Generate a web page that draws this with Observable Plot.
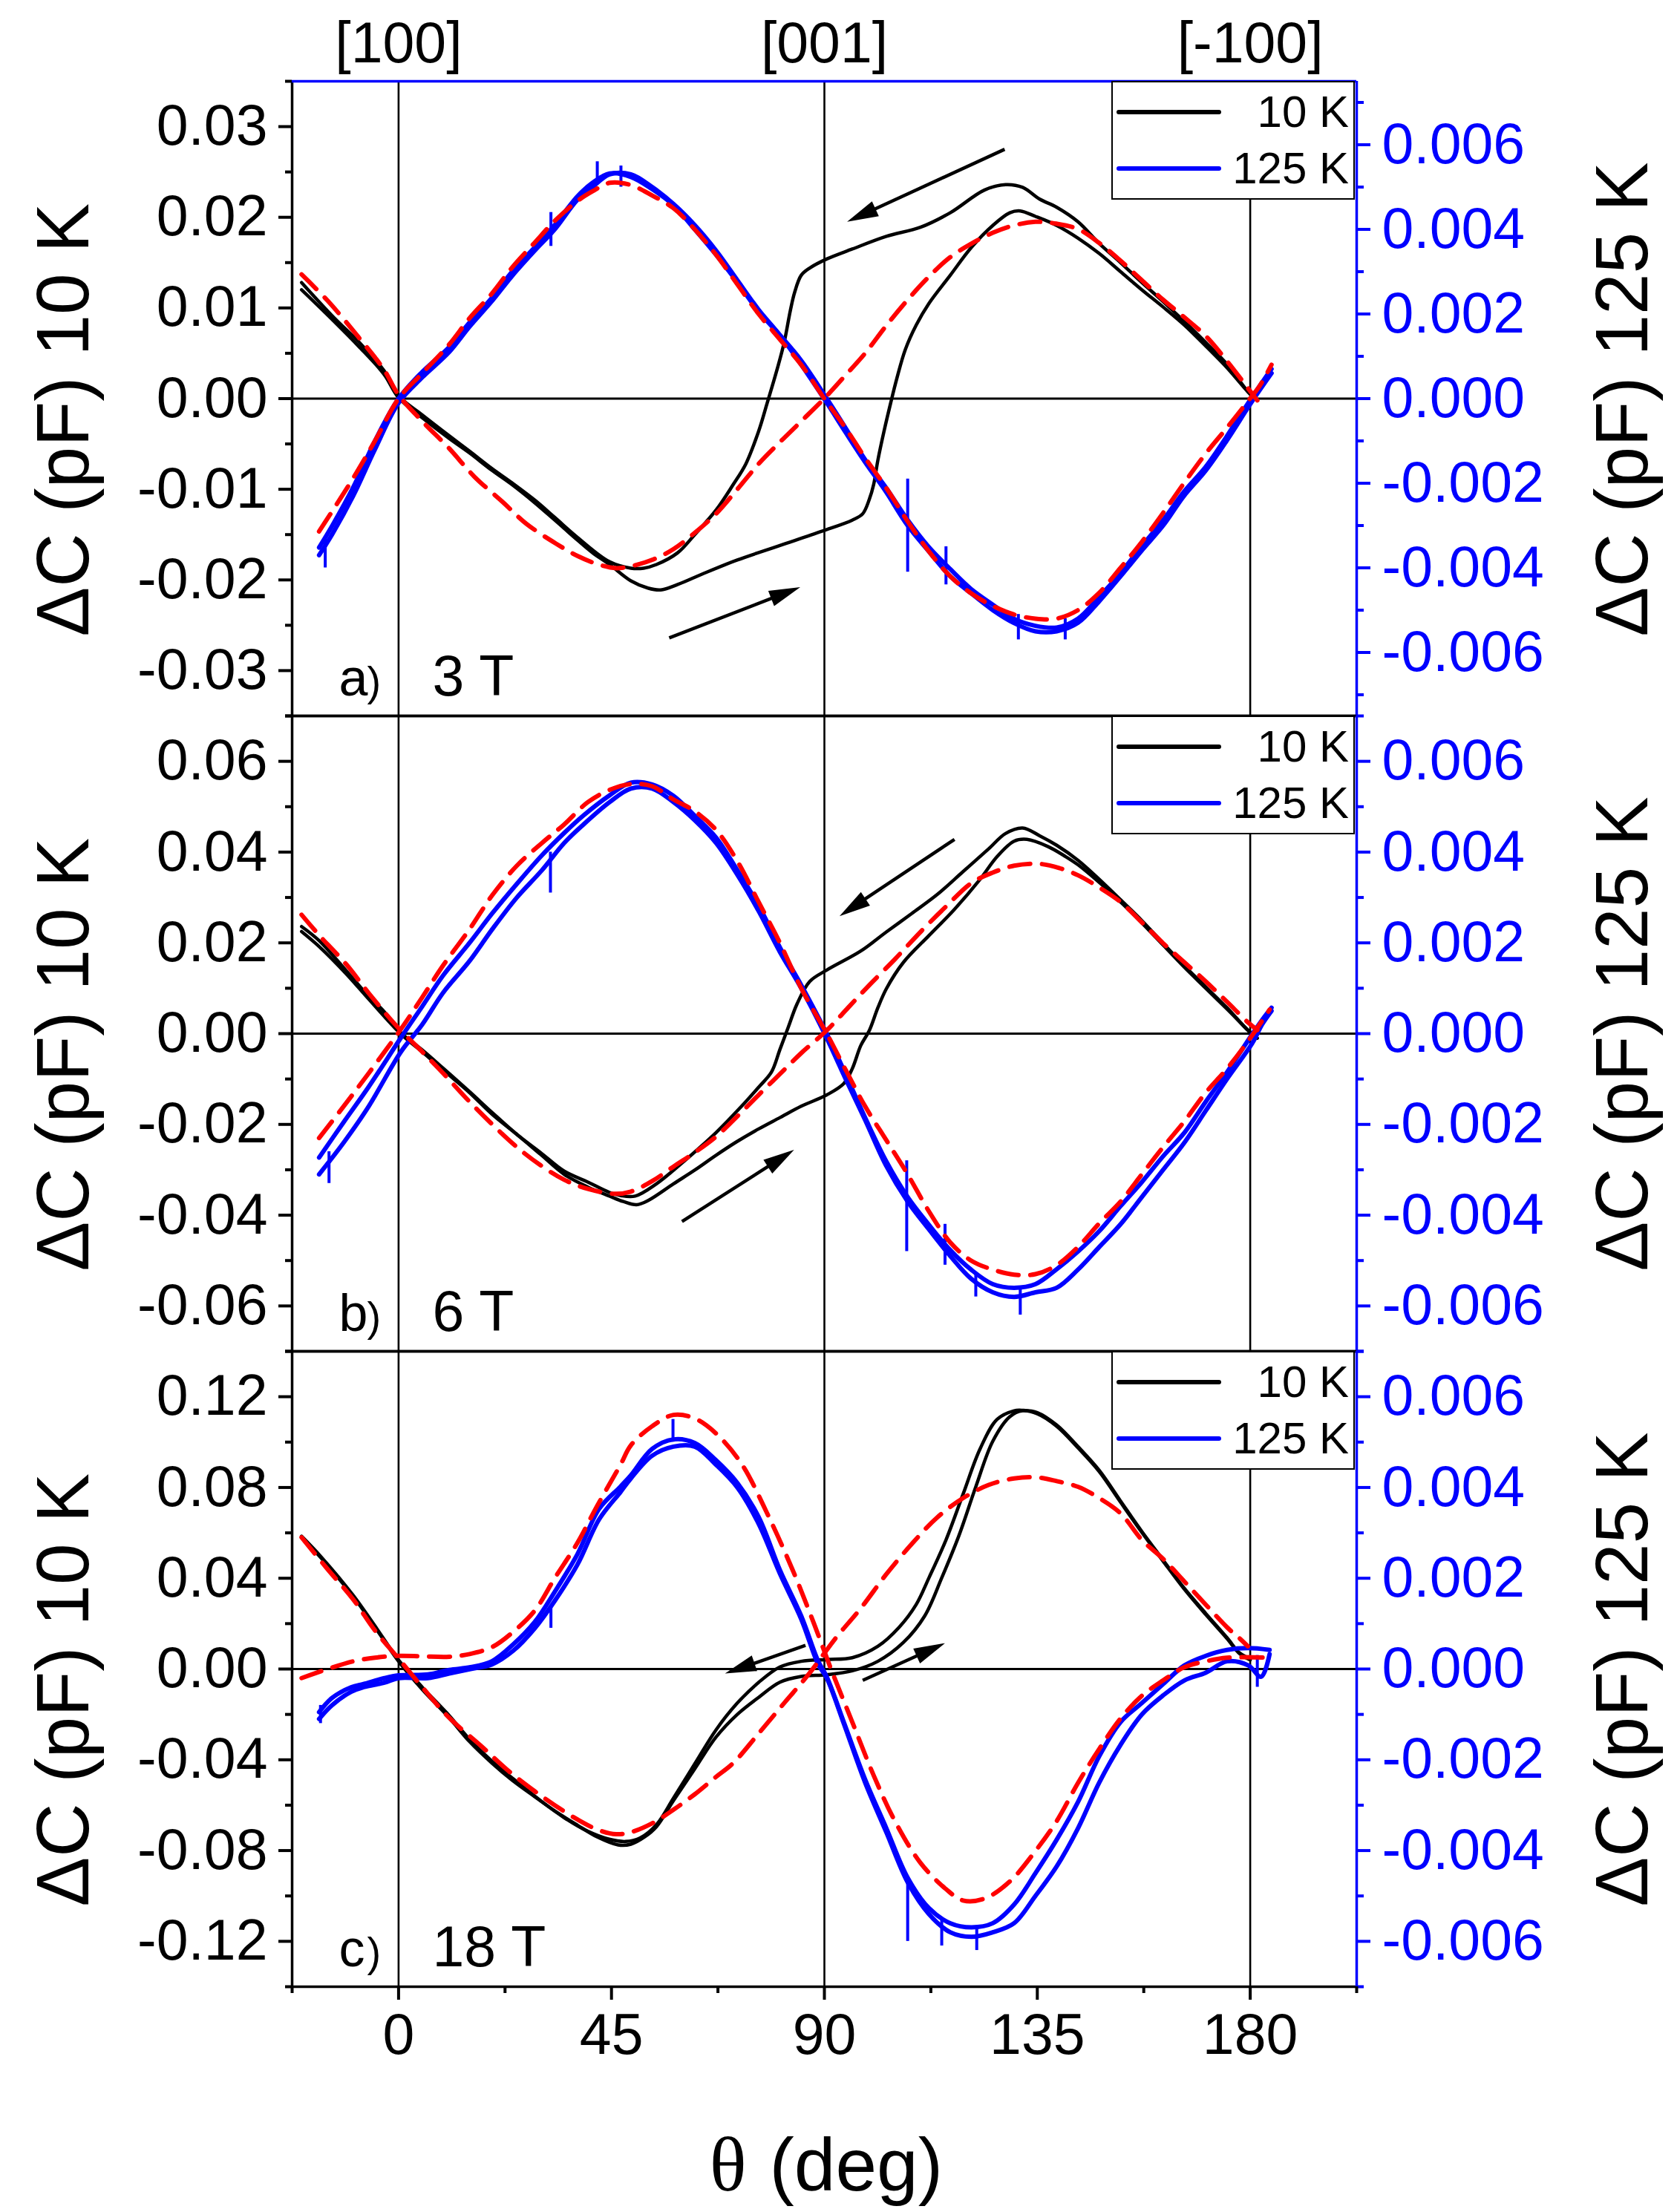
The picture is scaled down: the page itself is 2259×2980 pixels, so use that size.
<!DOCTYPE html>
<html><head><meta charset="utf-8">
<script src="https://cdn.jsdelivr.net/npm/d3@7"></script>
<script src="https://cdn.jsdelivr.net/npm/@observablehq/plot@0.6"></script>
<style>
body{margin:0;background:#fff;}
#fig{position:relative;width:2259px;height:2980px;background:#fff;overflow:hidden;font-family:"Liberation Sans",Arial,sans-serif;}
.panel{position:absolute;left:0;}
.legend{position:absolute;left:1497px;width:328px;height:160px;box-sizing:border-box;border:2.5px solid #000;background:#fff;}
.lline{position:absolute;left:5px;width:141px;height:6px;border-radius:3px;}
.ltxt{position:absolute;right:6px;font-size:60px;line-height:60px;height:60px;color:#000;white-space:nowrap;}
</style></head><body><div id="fig"></div><script>
// ---------- shared axis data ----------
const xDomain = [-22.5, 202.5];
const gridX = [0, 90, 180];
const xMajor = [0, 45, 90, 135, 180];
const xMinor = [-22.5, 22.5, 67.5, 112.5, 157.5, 202.5];
const topLabels = ["[100]", "[001]", "[-100]"];
const rightMajor = [-0.006, -0.004, -0.002, 0, 0.002, 0.004, 0.006];
const rightMinor = [-0.007, -0.005, -0.003, -0.001, 0.001, 0.003, 0.005, 0.007];
const legendLabels = ["10 K", "125 K"];
const legendColors = ["#000000", "#0000ff"];
const leftTitle = "ΔC (pF) 10 K";
const rightTitle = "ΔC (pF) 125 K";
const xTitleSymbol = "θ";
const xTitleUnit = "(deg)";

// ---------- panel a (3 T) ----------
const aLeftMajor = [-0.03, -0.02, -0.01, 0, 0.01, 0.02, 0.03];
const aLeftMinor = [-0.035, -0.025, -0.015, -0.005, 0.005, 0.015, 0.025, 0.035];
const aYMax = 0.035, aRightMax = 0.0075;
const aBlackFwd = [[-20.5,0.0120],[-13.6,0.0085],[-8.5,0.0058],[-3.1,0.0027],[0,0.0001],[5,-0.0021],[10.7,-0.0044],[15,-0.0060],[19.7,-0.0079],[24,-0.0095],[28.8,-0.0115],[33,-0.0134],[37.8,-0.0156],[41,-0.0170],[44.6,-0.0183],[49.1,-0.0201],[52.7,-0.0209],[55.4,-0.0211],[59,-0.0205],[64.4,-0.0193],[71.6,-0.0178],[80.6,-0.0162],[89.6,-0.0146],[95.9,-0.0134],[98.1,-0.0127],[99.5,-0.0111],[100.4,-0.0095],[101.3,-0.0068],[102.6,-0.0036],[104,-0.0005],[105.3,0.0022],[107.1,0.0054],[109.4,0.0081],[112.1,0.0105],[116.6,0.0136],[121.1,0.0167],[125.6,0.0191],[129.2,0.0205],[131.4,0.0207],[134.6,0.0201],[139.1,0.0191],[143.6,0.0177],[148.1,0.0160],[152.6,0.0140],[157.1,0.0120],[161.6,0.0101],[166.1,0.0081],[170.6,0.0058],[175.1,0.0034],[179.6,0.0007],[181,0.0000]];
const aBlackBwd = [[181,0.0002],[180,0.0005],[175.1,0.0038],[170.6,0.0062],[166.1,0.0085],[161.6,0.0107],[157.1,0.0128],[152.6,0.0150],[148.1,0.0171],[143.6,0.0195],[139.1,0.0211],[135.5,0.0220],[131.9,0.0233],[128.3,0.0236],[123.8,0.0230],[116.6,0.0205],[110.3,0.0189],[103.1,0.0179],[95.9,0.0165],[90.5,0.0154],[86.9,0.0144],[85.1,0.0136],[83.7,0.0117],[82.8,0.0097],[81.5,0.0062],[80.1,0.0034],[77.9,-0.0005],[76.1,-0.0036],[73.4,-0.0072],[70.7,-0.0095],[67.1,-0.0123],[62.6,-0.0150],[59,-0.0170],[54.5,-0.0183],[51.8,-0.0187],[49.1,-0.0187],[44.6,-0.0180],[37.8,-0.0153],[33,-0.0131],[28.8,-0.0112],[24,-0.0093],[19.7,-0.0077],[15,-0.0058],[10.7,-0.0041],[5,-0.0018],[0,0.0003],[-3.1,0.0031],[-8.5,0.0063],[-13.6,0.0089],[-20.5,0.0128]];
const aRedBlack = [[-20.5,0.0137],[-15,0.0108],[-8.5,0.0068],[-3.1,0.0032],[0,0.0004],[5,-0.0025],[10.7,-0.0055],[16,-0.0086],[22,-0.0114],[27,-0.0138],[33.3,-0.0160],[38,-0.0174],[42.3,-0.0183],[46,-0.0187],[49,-0.0185],[54,-0.0177],[58.1,-0.0166],[62.6,-0.0148],[67.1,-0.0127],[71.6,-0.0100],[76.1,-0.0072],[80.6,-0.0048],[85.1,-0.0025],[90.5,0.0003],[94.5,0.0026],[98.6,0.0050],[103,0.0080],[107.6,0.0109],[112,0.0134],[116.6,0.0156],[121.1,0.0171],[125.6,0.0183],[130,0.0191],[134.6,0.0195],[139,0.0193],[143.6,0.0187],[148,0.0172],[152.6,0.0152],[157,0.0131],[161.6,0.0109],[166,0.0090],[170.6,0.0069],[175,0.0042],[179.6,0.0011],[181.5,-0.0002]];
const aBlue1 = [[-16.8,-0.00352],[-14,-0.0030],[-9.6,-0.0021],[-5,-0.0010],[0,0],[5,0.00063],[10.7,0.00122],[15,0.0018],[19.7,0.00238],[24,0.0030],[28.8,0.00358],[33,0.0041],[37.8,0.00478],[41,0.0051],[44.6,0.00532],[49.1,0.00524],[53.6,0.00495],[58.1,0.00457],[62.6,0.0040],[67.1,0.0034],[71.6,0.00275],[76.1,0.00206],[80.6,0.0015],[85.1,0.0009],[90.5,0],[94.5,-0.0007],[98.6,-0.00144],[103,-0.0021],[107.6,-0.00287],[112,-0.0035],[116.6,-0.00403],[121,-0.0045],[125.6,-0.00487],[130,-0.0052],[134.6,-0.00537],[139.1,-0.00541],[143.6,-0.0052],[148,-0.0047],[152.6,-0.00412],[157,-0.0035],[161.6,-0.00287],[166,-0.0022],[170.6,-0.00161],[175,-0.0009],[179.6,-0.0001],[182,0.0003],[184.5,0.0007]];
const aBlue2 = [[-16.8,-0.0037],[-14,-0.0032],[-9.6,-0.0023],[-5,-0.0012],[0,-0.0001],[5,0.0005],[10.7,0.0011],[15,0.0017],[19.7,0.0023],[24,0.0029],[28.8,0.0035],[33,0.0040],[37.8,0.0047],[41,0.0050],[44.6,0.0053],[49.1,0.0053],[53.6,0.0050],[58.1,0.0046],[62.6,0.0041],[67.1,0.0035],[71.6,0.0028],[76.1,0.0021],[80.6,0.0015],[85.1,0.0008],[90.5,-0.0001],[94.5,-0.0008],[98.6,-0.0015],[103,-0.0022],[107.6,-0.0030],[112,-0.0036],[116.6,-0.0042],[121,-0.0046],[125.6,-0.0050],[130,-0.0053],[134.6,-0.0055],[139.1,-0.0055],[143.6,-0.0053],[148,-0.0048],[152.6,-0.0042],[157,-0.0036],[161.6,-0.0030],[166,-0.0023],[170.6,-0.0017],[175,-0.0010],[179.6,-0.0002],[182,0.0002],[184.5,0.0006]];
const aRedBlue = [[-16.8,-0.00314],[-9.6,-0.00188],[-5,-0.0010],[0,0],[5,0.0006],[10.7,0.00128],[15,0.0019],[19.7,0.00248],[24,0.0031],[28.8,0.00369],[33,0.0042],[37.8,0.00467],[41,0.0049],[44.6,0.0051],[49,0.00505],[53.6,0.0048],[58.1,0.0045],[62.6,0.0040],[67.1,0.0034],[71.6,0.0027],[76.1,0.0020],[80.6,0.0014],[85.1,0.0008],[90,0],[94.5,-0.0007],[98.6,-0.0014],[103,-0.0021],[107.6,-0.0029],[112,-0.0036],[116.6,-0.0042],[121,-0.0046],[125.6,-0.0049],[130,-0.0051],[134.6,-0.0052],[139.1,-0.0052],[143.6,-0.0050],[148,-0.0046],[152.6,-0.0040],[157,-0.0034],[161.6,-0.0027],[166,-0.0020],[170.6,-0.0013],[175,-0.0007],[179.6,-0.00005],[182,0.0003],[184.5,0.0008]];
const aSpikes = [[-15.5,-0.0040,-0.0033],[32.2,0.0036,0.0044],[42,0.0051,0.0056],[47,0.0050,0.0055],[107.6,-0.0041,-0.0019],[115.7,-0.0044,-0.0035],[131,-0.0057,-0.0051],[140.9,-0.0057,-0.0052]];
const aArrows = [[128.1,0.0275,94.8,0.0195],[57.2,-0.0264,84.9,-0.0208]];

// ---------- panel b (6 T) ----------
const bLeftMajor = [-0.06, -0.04, -0.02, 0, 0.02, 0.04, 0.06];
const bLeftMinor = [-0.07, -0.05, -0.03, -0.01, 0.01, 0.03, 0.05, 0.07];
const bYMax = 0.07, bRightMax = 0.007;
const bBlackFwd = [[-20.5,0.0225],[-16.8,0.0192],[-11,0.0131],[-6.3,0.0076],[0.5,-0.0001],[5,-0.0040],[9.4,-0.0080],[15,-0.0130],[19.8,-0.0178],[25,-0.0222],[30,-0.0266],[35,-0.0310],[40,-0.0338],[44.6,-0.0358],[47.5,-0.0370],[50.3,-0.0377],[52.7,-0.0368],[58.1,-0.0331],[62.7,-0.0300],[67.1,-0.0268],[71.5,-0.0238],[76.1,-0.0210],[80.6,-0.0185],[85.1,-0.0160],[90.5,-0.0135],[94.1,-0.0110],[95.9,-0.0077],[97.7,-0.0026],[99.5,0.0007],[101.3,0.0057],[103.1,0.0099],[106.7,0.0157],[112.1,0.0216],[117.5,0.0274],[122.9,0.0340],[126.5,0.0390],[130.1,0.0424],[132.8,0.0428],[137.3,0.0412],[141,0.0390],[143.6,0.0372],[148.1,0.0333],[152.6,0.0290],[157.1,0.0244],[161.6,0.0195],[166.1,0.0146],[170.6,0.0100],[175.1,0.0054],[180.5,-0.0002],[181.5,-0.0010]];
const bBlackBwd = [[181,0.0003],[180.5,0.0000],[175.1,0.0057],[170.6,0.0103],[166.1,0.0149],[161.6,0.0199],[157.1,0.0249],[152.6,0.0295],[148.1,0.0340],[143.6,0.0382],[139.1,0.0415],[135.5,0.0436],[131.9,0.0453],[128.3,0.0441],[124.7,0.0407],[119.3,0.0357],[113.9,0.0307],[108.5,0.0265],[103.1,0.0224],[97.7,0.0182],[90.5,0.0140],[86.9,0.0115],[84.2,0.0065],[82.4,0.0015],[80.6,-0.0035],[78.8,-0.0085],[76.1,-0.0118],[72.5,-0.0160],[67.1,-0.0218],[59.9,-0.0285],[54.5,-0.0331],[50,-0.0358],[47,-0.0357],[44.6,-0.0350],[40,-0.0327],[35,-0.0303],[30,-0.0262],[25,-0.0222],[19.8,-0.0174],[15,-0.0128],[9.4,-0.0076],[5,-0.0036],[0.5,0.0002],[-3,0.0048],[-6.3,0.0082],[-11,0.0138],[-16.8,0.0205],[-20.5,0.0236]];
const bRedBlack = [[-20.5,0.0262],[-16.8,0.0217],[-11,0.0152],[-6.3,0.0089],[0,0.0012],[5,-0.0040],[9.4,-0.0087],[15,-0.0150],[19.8,-0.0200],[25,-0.0250],[30,-0.0290],[35,-0.0322],[40,-0.0342],[45.7,-0.0353],[49.1,-0.0348],[53.6,-0.0325],[58.1,-0.0293],[62.6,-0.0262],[67.1,-0.0227],[71.6,-0.0182],[76.1,-0.0135],[80.6,-0.0089],[85.1,-0.0043],[90.5,0.0007],[95,0.0057],[99.5,0.0107],[105,0.0165],[110.3,0.0224],[115.7,0.0280],[121.1,0.0332],[125.6,0.0355],[130.1,0.0370],[135.5,0.0374],[139.6,0.0365],[143.6,0.0349],[148.1,0.0322],[152.6,0.0290],[157.1,0.0245],[161.6,0.0199],[166.1,0.0157],[170.6,0.0115],[175.1,0.0070],[179.6,0.0024],[181.5,0.0008]];
const bBlue1 = [[-16.8,-0.00273],[-11.6,-0.00195],[-6.3,-0.00117],[0.5,-0.00009],[5,0.0006],[9.4,0.00128],[15,0.0020],[19.8,0.00265],[25,0.0033],[30.3,0.00393],[35,0.00442],[39,0.0048],[44.6,0.00525],[49.1,0.00553],[53.6,0.00549],[58.1,0.00524],[62.6,0.0048],[67.1,0.00432],[71.6,0.0036],[76.1,0.00282],[80.6,0.0019],[85.1,0.00107],[90.5,0],[94.5,-0.0009],[98.6,-0.00185],[103,-0.0028],[107.6,-0.0036],[112,-0.0042],[116.6,-0.00477],[121,-0.0052],[125.6,-0.00552],[130.1,-0.0056],[134.6,-0.00552],[139.1,-0.00519],[143.6,-0.0048],[148.1,-0.00435],[152.6,-0.0038],[157.1,-0.00327],[161.6,-0.0027],[166.1,-0.00218],[170.6,-0.0015],[175.1,-0.00085],[180.5,0],[182.5,0.0003],[184.5,0.00057]];
const bBlue2 = [[-16.8,-0.0031],[-11.6,-0.0024],[-6.3,-0.0016],[0.5,-0.0004],[5,0.0002],[9.4,0.0009],[15,0.0016],[19.8,0.0023],[25,0.0030],[30.3,0.0036],[35,0.0042],[39,0.0046],[44.6,0.0051],[49.1,0.0054],[53.6,0.0054],[58.1,0.0051],[62.6,0.0047],[67.1,0.0042],[71.6,0.0035],[76.1,0.0027],[80.6,0.0018],[85.1,0.0010],[90.5,-0.0001],[94.5,-0.0010],[98.6,-0.0019],[103,-0.0029],[107.6,-0.0037],[112,-0.0043],[116.6,-0.0049],[121,-0.0054],[125.6,-0.0057],[130.1,-0.0058],[134.6,-0.0057],[139.1,-0.0056],[143.6,-0.0052],[148.1,-0.0047],[152.6,-0.0042],[157.1,-0.0036],[161.6,-0.0030],[166.1,-0.0024],[170.6,-0.0017],[175.1,-0.0010],[180.5,-0.0002],[182.5,0.0002],[184.5,0.0005]];
const bRedBlue = [[-16.8,-0.0023],[-11.6,-0.0016],[-6.3,-0.00087],[0.5,0.0001],[5,0.0008],[9.4,0.0015],[15,0.0023],[19.8,0.00305],[25,0.0037],[30.3,0.0042],[35,0.00461],[40,0.0051],[44.6,0.00537],[49.1,0.0055],[53.6,0.00545],[58.1,0.00516],[62.6,0.0049],[67.1,0.00449],[71.6,0.0038],[76.1,0.0029],[80.6,0.0020],[85.1,0.0010],[90.5,0],[94.5,-0.0008],[98.6,-0.0016],[103.1,-0.00235],[107.6,-0.0031],[112,-0.0039],[116.6,-0.0046],[121,-0.0050],[125.6,-0.0052],[130.1,-0.00531],[134.6,-0.0053],[139.1,-0.0051],[143.6,-0.0047],[148.1,-0.00418],[152.6,-0.0037],[157.1,-0.0031],[161.6,-0.0025],[166.1,-0.00193],[170.6,-0.0013],[175.1,-0.00077],[180,-0.0001],[184.1,0.00053]];
const bSpikes = [[-14.7,-0.0033,-0.0026],[32.1,0.0031,0.0040],[107.4,-0.0048,-0.0028],[115.5,-0.0051,-0.0042],[122,-0.0058,-0.0053],[131.4,-0.0062,-0.0056]];
const bArrows = [[117.5,0.0428,93.2,0.0259],[59.9,-0.0414,83.6,-0.0256]];

// ---------- panel c (18 T) ----------
const cLeftMajor = [-0.12, -0.08, -0.04, 0, 0.04, 0.08, 0.12];
const cLeftMinor = [-0.14, -0.10, -0.06, -0.02, 0.02, 0.06, 0.10, 0.14];
const cYMax = 0.14, cRightMax = 0.007;
const cBlackFwd = [[-20.5,0.0580],[-16.4,0.0490],[-9.6,0.0320],[-5,0.0185],[0,0.0034],[5,-0.0090],[10.7,-0.0215],[15,-0.0320],[19.7,-0.0414],[24,-0.0490],[28.8,-0.0563],[33,-0.0625],[37.8,-0.0688],[42,-0.0740],[46.4,-0.0775],[49.1,-0.0772],[52,-0.0740],[54.5,-0.0695],[58.1,-0.0580],[62.6,-0.0440],[67.1,-0.0300],[71.6,-0.0200],[76.1,-0.0125],[80.6,-0.0058],[85.1,-0.0033],[90.5,-0.0025],[95.9,-0.0008],[101.3,0.0034],[106.7,0.0117],[111.2,0.0234],[114.8,0.0402],[118.4,0.0586],[122,0.0803],[125.6,0.1004],[129.2,0.1112],[131.9,0.1138],[135,0.1125],[139.1,0.1070],[143.6,0.0975],[148.1,0.0870],[152.6,0.0735],[157.1,0.0602],[161.6,0.0475],[166.1,0.0351],[170.6,0.0240],[175.1,0.0134],[177.8,0.0067],[180,0.0040]];
const cBlackBwd = [[180,0.0045],[177.8,0.0070],[175.1,0.0138],[170.6,0.0245],[166.1,0.0355],[161.6,0.0480],[157.1,0.0606],[152.6,0.0740],[148.1,0.0875],[143.6,0.0980],[139.1,0.1075],[135,0.1130],[131.9,0.1140],[130.1,0.1138],[126.5,0.1100],[122.9,0.0970],[119.3,0.0770],[115.7,0.0569],[112.1,0.0402],[109.4,0.0284],[105.8,0.0184],[101.3,0.0100],[95.9,0.0050],[90.5,0.0042],[85.1,0.0034],[80.6,0.0009],[76.1,-0.0059],[71.6,-0.0150],[67.1,-0.0268],[62.6,-0.0418],[58.1,-0.0569],[54.5,-0.0686],[51,-0.0745],[48,-0.0760],[44.5,-0.0750],[40,-0.0715],[35,-0.0655],[30,-0.0580],[24,-0.0480],[19.7,-0.0405],[15,-0.0310],[10.7,-0.0205],[5,-0.0080],[0,0.0040],[-5,0.0190],[-9.6,0.0325],[-16.4,0.0495],[-20.5,0.0585]];
const cRedBlack = [[-20.5,0.0580],[-15,0.0440],[-9.6,0.0307],[-5,0.0170],[0,0.0046],[5,-0.0080],[10.7,-0.0215],[17.5,-0.0340],[23,-0.0445],[28.8,-0.0539],[33,-0.0600],[37.8,-0.0663],[42.3,-0.0710],[46,-0.0728],[49.1,-0.0719],[53.6,-0.0680],[58.1,-0.0620],[62.6,-0.0552],[67.1,-0.0475],[70.7,-0.0415],[76.1,-0.0284],[81.5,-0.0150],[86.9,-0.0017],[92.3,0.0134],[97.7,0.0268],[103.1,0.0418],[108.5,0.0552],[113.9,0.0669],[119.3,0.0753],[124.7,0.0811],[130.1,0.0840],[134.6,0.0845],[139.1,0.0828],[143.6,0.0803],[148.1,0.0753],[152.6,0.0686],[157.1,0.0569],[161.6,0.0485],[166.1,0.0385],[170.6,0.0284],[175.1,0.0184],[177.8,0.0134],[179.5,0.0100]];
const cBlue1 = [[-16.8,-0.00095],[-14.1,-0.00064],[-10,-0.0004],[-7.4,-0.00033],[-3,-0.0002],[0,-0.00014],[6.2,-0.00012],[10.7,-0.00002],[15.2,0.00004],[19.7,0.00017],[24.2,0.00054],[28.8,0.00104],[33,0.0017],[37.8,0.00253],[42.4,0.00353],[46.9,0.00402],[49.1,0.00427],[53.6,0.00485],[58.1,0.00506],[62.6,0.00498],[67.1,0.0046],[71.6,0.0041],[76.1,0.00335],[80.6,0.00218],[85.1,0.00117],[88.7,0.00017],[90.5,-0.00017],[94.1,-0.00117],[98.6,-0.00243],[103.1,-0.00351],[107.6,-0.0046],[112.1,-0.00527],[116.6,-0.0056],[121.1,-0.00569],[125.6,-0.0056],[130.1,-0.00519],[134.6,-0.0045],[139.1,-0.00376],[143.6,-0.00293],[148.1,-0.00192],[152.6,-0.00117],[157.1,-0.00075],[161.6,-0.00033],[166.1,0.00008],[170.6,0.00029],[175.1,0.00042],[179.6,0.00046],[184.1,0.00042]];
const cBlue2 = [[-16.8,-0.0011],[-14.1,-0.0008],[-10,-0.0005],[-7.4,-0.0004],[-3,-0.0003],[0,-0.0002],[6.2,-0.0002],[10.7,-0.0001],[15.2,0.0000],[19.7,0.0001],[24.2,0.0004],[28.8,0.0009],[33,0.0015],[37.8,0.0023],[42.4,0.0033],[46.9,0.0039],[49.1,0.0042],[53.6,0.0047],[58.1,0.0049],[62.6,0.0049],[67.1,0.0045],[71.6,0.0040],[76.1,0.0032],[80.6,0.0021],[85.1,0.0011],[88.7,0.0001],[90.5,-0.0002],[94.1,-0.0012],[98.6,-0.0025],[103.1,-0.0036],[107.6,-0.0047],[112.1,-0.0054],[116.6,-0.0058],[121.1,-0.0059],[125.6,-0.0058],[130.1,-0.0056],[134.6,-0.0050],[139.1,-0.00435],[143.6,-0.00351],[148.1,-0.0025],[152.6,-0.00167],[157.1,-0.0010],[161.6,-0.00058],[166.1,-0.00025],[170.6,-0.00008],[175.1,0.00017],[179.6,0.00008],[182.3,-0.00017],[184.1,0.00033]];
const cRedBlue = [[-20.5,-0.0002],[-15,0.0000],[-9.6,0.00017],[-5,0.00025],[0,0.00029],[5,0.00028],[10.7,0.00027],[15,0.00033],[19.7,0.00048],[24,0.0008],[28.8,0.00129],[33,0.0020],[37.8,0.00278],[42,0.0036],[46.9,0.0045],[49.1,0.00493],[53.6,0.00535],[58.1,0.0056],[62.6,0.00552],[67.1,0.00519],[72.5,0.00452],[77.9,0.00343],[83.3,0.00218],[87.8,0.001],[91.4,0],[95.9,-0.00117],[100.4,-0.00234],[104.9,-0.00335],[110.3,-0.00427],[115.7,-0.00485],[119.3,-0.0051],[123.8,-0.00506],[129.2,-0.00468],[134.6,-0.00401],[139.1,-0.00335],[143.6,-0.00251],[148.1,-0.00176],[152.6,-0.00109],[157.1,-0.00059],[161.6,-0.00025],[166.1,0.00004],[170.6,0.00017],[175.1,0.00025],[184.1,0.00025]];
const cSpikes = [[-16.5,-0.0012,-0.0008],[32.2,0.0009,0.0014],[58,0.0050,0.0055],[107.6,-0.0060,-0.0046],[114.8,-0.0061,-0.0055],[122.2,-0.0062,-0.0057],[181.5,-0.0004,0.0003]];
const cArrows = [[86,0.0104,69,-0.0020],[98.1,-0.0050,115.5,0.0114]];

// ---------- panel configuration ----------
const panelLetters = ["a", "b", "c"];
const panelFields = ["3 T", "6 T", "18 T"];
const panels = [
  {top: 0, height: 964, mt: 109, mb: 0, yMax: aYMax, rMax: aRightMax, major: aLeftMajor, minor: aLeftMinor, fwd: aBlackFwd, bwd: aBlackBwd, redBlack: aRedBlack, blue: [aBlue1, aBlue2], redBlue: aRedBlue, spikes: aSpikes, arrows: aArrows, topColor: "#0000ff", topAxis: true, bottomAxis: false},
  {top: 964, height: 856, mt: 0, mb: 0, yMax: bYMax, rMax: bRightMax, major: bLeftMajor, minor: bLeftMinor, fwd: bBlackFwd, bwd: bBlackBwd, redBlack: bRedBlack, blue: [bBlue1, bBlue2], redBlue: bRedBlue, spikes: bSpikes, arrows: bArrows, topColor: "#000000", topAxis: false, bottomAxis: false},
  {top: 1820, height: 1160, mt: 0, mb: 304, yMax: cYMax, rMax: cRightMax, major: cLeftMajor, minor: cLeftMinor, fwd: cBlackFwd, bwd: cBlackBwd, redBlack: cRedBlack, blue: [cBlue1, cBlue2], redBlue: cRedBlue, spikes: cSpikes, arrows: cArrows, topColor: "#000000", topAxis: false, bottomAxis: true}
];

const W = 2259, ML = 393, MR = 432;
const FONT = "Liberation Sans, Arial, Helvetica, sans-serif";
const SERIF = "Liberation Serif, Times New Roman, serif";
const BLUE = "#0000ff", RED = "#ff0000";
const hy = s => s.replace(/\u2212/g, "-");
const f2 = d => hy(d3.format(".2f")(d));
const f3 = d => hy(d3.format(".3f")(d));
const headSymbol = {draw(ctx) { ctx.moveTo(0, 0); ctx.lineTo(-11, 42); ctx.lineTo(11, 42); ctx.closePath(); }};

function makePanel(p, i) {
  const k = p.yMax / p.rMax;
  const frameH = p.height - p.mt - p.mb;
  const sx = (W - ML - MR) / (xDomain[1] - xDomain[0]);
  const sy = frameH / (2 * p.yMax);
  const arrows = p.arrows.map(([x1, y1, x2, y2]) => {
    const dxs = (x2 - x1) * sx, dys = -(y2 - y1) * sy;
    const f = 30 / Math.hypot(dxs, dys);
    return {x1, y1, x2, y2, xs: x2 - (x2 - x1) * f, ys: y2 - (y2 - y1) * f, angle: Math.atan2(dxs, -dys) * 180 / Math.PI};
  });
  const X = d => d[0], Y = d => d[1], YB = d => d[1] * k;
  const marks = [
    Plot.ruleX(gridX, {stroke: "#000", strokeWidth: 2.6}),
    Plot.ruleY([0], {stroke: "#000", strokeWidth: 2.8}),
    Plot.line(p.fwd, {x: X, y: Y, stroke: "#000", strokeWidth: 4.5, curve: "catmull-rom"}),
    Plot.line(p.bwd, {x: X, y: Y, stroke: "#000", strokeWidth: 4.5, curve: "catmull-rom"}),
    ...p.blue.map(b => Plot.line(b, {x: X, y: YB, stroke: BLUE, strokeWidth: 6, curve: "catmull-rom"})),
    Plot.ruleX(p.spikes, {x: d => d[0], y1: d => d[1] * k, y2: d => d[2] * k, stroke: BLUE, strokeWidth: 4}),
    Plot.line(p.redBlack, {x: X, y: Y, stroke: RED, strokeWidth: 6, strokeDasharray: "28,16", curve: "catmull-rom"}),
    Plot.line(p.redBlue, {x: X, y: YB, stroke: RED, strokeWidth: 6, strokeDasharray: "28,16", curve: "catmull-rom"}),
    Plot.link(arrows, {x1: "x1", y1: "y1", x2: "xs", y2: "ys", stroke: "#000", strokeWidth: 4.5}),
    Plot.dot(arrows, {x: "x2", y: "y2", symbol: headSymbol, r: 10, fill: "#000", stroke: "none", rotate: "angle"}),
    Plot.ruleX([xDomain[0]], {stroke: "#000", strokeWidth: 3.5}),
    Plot.ruleY([-p.yMax], {stroke: "#000", strokeWidth: 3.5}),
    Plot.ruleY([p.yMax], {stroke: p.topColor, strokeWidth: 3.5}),
    Plot.ruleX([xDomain[1]], {stroke: BLUE, strokeWidth: 3.5}),
    Plot.axisY(p.major, {anchor: "left", tickSize: 18, tickPadding: 15, strokeWidth: 4, fontSize: 77, fontFamily: FONT, tickFormat: f2, label: null}),
    Plot.axisY(p.minor, {anchor: "left", tickSize: 9, strokeWidth: 4, tickFormat: () => "", label: null}),
    Plot.axisY(rightMajor.map(t => t * k), {anchor: "right", color: BLUE, tickSize: 18, tickPadding: 16, strokeWidth: 4, fontSize: 77, fontFamily: FONT, tickFormat: d => f3(d / k), label: null}),
    Plot.axisY(rightMinor.map(t => t * k), {anchor: "right", color: BLUE, tickSize: 9, strokeWidth: 4, tickFormat: () => "", label: null}),
    Plot.text([leftTitle], {frameAnchor: "bottom-left", dx: 118 - ML, dy: -(frameH - 748), rotate: -90, textAnchor: "start", lineAnchor: "bottom", fontSize: 100, fontFamily: FONT, fill: "#000"}),
    Plot.text([rightTitle], {frameAnchor: "bottom-right", dx: 2218 - (W - MR), dy: -(frameH - 748), rotate: -90, textAnchor: "start", lineAnchor: "bottom", fontSize: 100, fontFamily: FONT, fill: "#000"}),
    Plot.text([panelLetters[i]], {frameAnchor: "bottom-left", dx: 63, dy: -28, textAnchor: "start", lineAnchor: "bottom", fontSize: 70, fontFamily: FONT, fill: "#000"}),
    Plot.text([")"], {frameAnchor: "bottom-left", dx: 101, dy: -28, textAnchor: "start", lineAnchor: "bottom", fontSize: 56, fontFamily: FONT, fill: "#000"}),
    Plot.text([panelFields[i]], {frameAnchor: "bottom-left", dx: 189, dy: -28, textAnchor: "start", lineAnchor: "bottom", fontSize: 77, fontFamily: FONT, fill: "#000"})
  ];
  if (p.topAxis) {
    marks.push(Plot.axisX(gridX, {anchor: "top", tickSize: 0, tickPadding: 26, fontSize: 77, fontFamily: FONT, tickFormat: d => topLabels[gridX.indexOf(d)], label: null}));
  }
  if (p.bottomAxis) {
    marks.push(
      Plot.axisX(xMajor, {anchor: "bottom", tickSize: 18, tickPadding: 18, strokeWidth: 4, fontSize: 77, fontFamily: FONT, tickFormat: d => String(d), label: null}),
      Plot.axisX(xMinor, {anchor: "bottom", tickSize: 9, strokeWidth: 4, tickFormat: () => "", label: null}),
      Plot.text([xTitleSymbol], {frameAnchor: "bottom", dx: 1005 - 1110, dy: 2950 - 2676, textAnchor: "end", lineAnchor: "bottom", fontSize: 104, fontFamily: SERIF, fill: "#000"}),
      Plot.text([xTitleUnit], {frameAnchor: "bottom", dx: 1036 - 1110, dy: 2950 - 2676, textAnchor: "start", lineAnchor: "bottom", fontSize: 100, fontFamily: FONT, fill: "#000"})
    );
  }
  return Plot.plot({
    width: W, height: p.height,
    marginLeft: ML, marginRight: MR, marginTop: p.mt, marginBottom: p.mb,
    x: {domain: xDomain, axis: null},
    y: {domain: [-p.yMax, p.yMax], axis: null},
    style: {overflow: "visible", background: "transparent"},
    marks
  });
}

const fig = document.getElementById("fig");
panels.forEach((p, i) => {
  const wrap = document.createElement("div");
  wrap.className = "panel";
  wrap.style.top = p.top + "px";
  wrap.appendChild(makePanel(p, i));
  fig.appendChild(wrap);
});
panels.forEach(p => {
  const lg = document.createElement("div");
  lg.className = "legend";
  lg.style.top = (p.top + p.mt) + "px";
  legendLabels.forEach((lab, j) => {
    const cy = j === 0 ? 40 : 116;
    const ln = document.createElement("div");
    ln.className = "lline";
    ln.style.top = (cy - 3) + "px";
    ln.style.background = legendColors[j];
    const tx = document.createElement("div");
    tx.className = "ltxt";
    tx.style.top = (cy - 30) + "px";
    tx.textContent = lab;
    lg.appendChild(ln);
    lg.appendChild(tx);
  });
  fig.appendChild(lg);
});
</script></body></html>
